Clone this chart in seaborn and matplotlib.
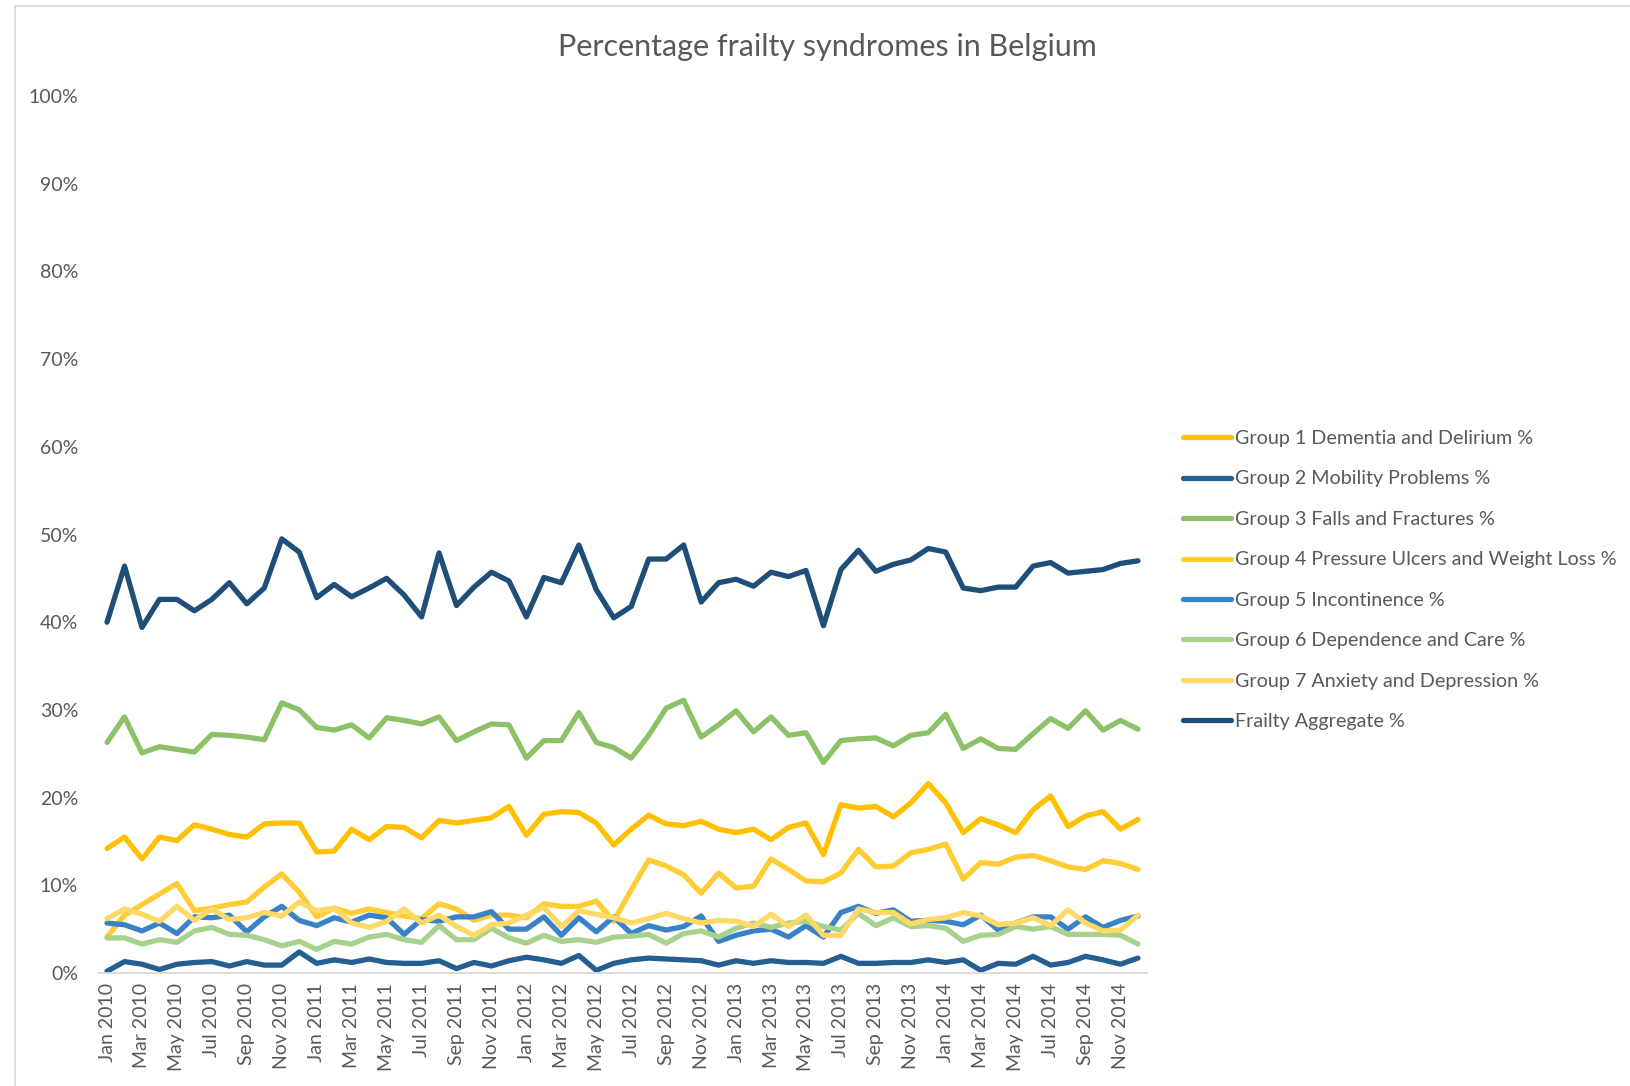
import matplotlib
matplotlib.use("Agg")
import matplotlib.pyplot as plt
from matplotlib.patches import Rectangle
import seaborn as sns
import pandas as pd

MONTHS = ["Jan", "Feb", "Mar", "Apr", "May", "Jun", "Jul", "Aug", "Sep", "Oct", "Nov", "Dec"]
YEARS = [2010, 2011, 2012, 2013, 2014]
period_labels = [f"{m} {y}" for y in YEARS for m in MONTHS]

series_names = [
    "Group 1 Dementia and Delirium %",
    "Group 2 Mobility Problems %",
    "Group 3 Falls and Fractures %",
    "Group 4 Pressure Ulcers and Weight Loss %",
    "Group 5 Incontinence %",
    "Group 6 Dependence and Care %",
    "Group 7 Anxiety and Depression %",
    "Frailty Aggregate %",
]

g1_dementia = [14.2, 15.5, 13.0, 15.5, 15.1, 16.9, 16.4, 15.8, 15.5, 17.0, 17.1, 17.1,
               13.8, 13.9, 16.4, 15.2, 16.7, 16.6, 15.4, 17.4, 17.1, 17.4, 17.7, 19.0,
               15.7, 18.1, 18.4, 18.3, 17.1, 14.6, 16.4, 18.0, 17.0, 16.8, 17.3, 16.4,
               16.0, 16.4, 15.2, 16.6, 17.1, 13.5, 19.2, 18.8, 19.0, 17.8, 19.4, 21.6,
               19.4, 16.0, 17.6, 16.9, 16.0, 18.6, 20.2, 16.7, 17.9, 18.4, 16.4, 17.5]
g2_mobility = [0.2, 1.3, 1.0, 0.4, 1.0, 1.2, 1.3, 0.8, 1.3, 0.9, 0.9, 2.4,
               1.1, 1.5, 1.2, 1.6, 1.2, 1.1, 1.1, 1.4, 0.5, 1.2, 0.8, 1.4,
               1.8, 1.5, 1.1, 2.0, 0.3, 1.1, 1.5, 1.7, 1.6, 1.5, 1.4, 0.9,
               1.4, 1.1, 1.4, 1.2, 1.2, 1.1, 1.9, 1.1, 1.1, 1.2, 1.2, 1.5,
               1.2, 1.5, 0.3, 1.1, 1.0, 1.9, 0.9, 1.2, 1.9, 1.5, 1.0, 1.7]
g3_falls = [26.3, 29.2, 25.1, 25.8, 25.5, 25.2, 27.2, 27.1, 26.9, 26.6, 30.8, 30.0,
            28.0, 27.7, 28.3, 26.8, 29.1, 28.8, 28.4, 29.2, 26.5, 27.5, 28.4, 28.3,
            24.5, 26.5, 26.5, 29.7, 26.3, 25.7, 24.5, 27.1, 30.2, 31.1, 26.9, 28.3,
            29.9, 27.5, 29.2, 27.1, 27.4, 24.0, 26.5, 26.7, 26.8, 25.9, 27.1, 27.4,
            29.5, 25.6, 26.7, 25.6, 25.5, 27.3, 29.0, 27.9, 29.9, 27.7, 28.8, 27.8]
g4_pressure = [4.1, 6.6, 7.8, 9.0, 10.2, 7.1, 7.4, 7.8, 8.1, 9.8, 11.3, 9.2,
               6.4, 7.4, 6.8, 7.3, 6.9, 6.5, 6.2, 7.9, 7.3, 6.0, 6.6, 6.6,
               6.3, 7.9, 7.6, 7.6, 8.2, 5.9, 9.5, 12.9, 12.2, 11.2, 9.1, 11.4,
               9.7, 9.9, 13.0, 11.8, 10.5, 10.4, 11.4, 14.1, 12.1, 12.2, 13.7, 14.1,
               14.7, 10.7, 12.6, 12.4, 13.2, 13.4, 12.8, 12.1, 11.8, 12.8, 12.5, 11.8]
g5_incontinence = [5.7, 5.5, 4.8, 5.7, 4.5, 6.4, 6.3, 6.6, 4.7, 6.4, 7.6, 6.0,
                   5.4, 6.3, 5.8, 6.6, 6.3, 4.4, 6.1, 5.9, 6.4, 6.4, 7.0, 5.0,
                   5.0, 6.4, 4.3, 6.3, 4.7, 6.4, 4.5, 5.4, 4.9, 5.3, 6.5, 3.6,
                   4.3, 4.8, 5.0, 4.1, 5.4, 4.1, 6.9, 7.6, 6.8, 7.2, 5.9, 6.0,
                   5.9, 5.5, 6.6, 4.9, 5.7, 6.4, 6.4, 5.0, 6.4, 5.2, 6.0, 6.5]
g6_dependence = [4.0, 4.0, 3.3, 3.8, 3.5, 4.8, 5.2, 4.4, 4.3, 3.8, 3.1, 3.6,
                 2.7, 3.6, 3.3, 4.1, 4.4, 3.8, 3.5, 5.4, 3.8, 3.8, 5.1, 4.0,
                 3.4, 4.3, 3.6, 3.8, 3.5, 4.1, 4.2, 4.4, 3.4, 4.5, 4.8, 4.1,
                 5.1, 5.7, 5.2, 5.7, 5.9, 5.3, 4.9, 6.8, 5.4, 6.3, 5.3, 5.4,
                 5.1, 3.6, 4.3, 4.4, 5.3, 5.0, 5.3, 4.4, 4.4, 4.4, 4.3, 3.3]
g7_anxiety = [6.2, 7.3, 6.7, 5.9, 7.6, 6.0, 7.3, 6.1, 6.3, 6.9, 6.5, 8.1,
              7.1, 7.4, 5.7, 5.2, 5.9, 7.3, 5.7, 6.6, 5.3, 4.3, 5.5, 5.7,
              6.6, 7.5, 5.3, 7.1, 6.7, 6.3, 5.7, 6.2, 6.8, 6.2, 5.7, 6.0,
              5.9, 5.3, 6.7, 5.3, 6.6, 4.3, 4.3, 7.3, 6.9, 6.9, 5.6, 6.1,
              6.3, 6.9, 6.5, 5.5, 5.7, 6.3, 5.4, 7.2, 5.7, 4.8, 4.9, 6.6]
frailty_aggregate = [40.0, 46.4, 39.4, 42.6, 42.6, 41.3, 42.6, 44.5, 42.1, 43.9, 49.5, 48.0,
                     42.8, 44.3, 42.9, 43.9, 45.0, 43.1, 40.6, 47.9, 41.9, 44.0, 45.7, 44.7,
                     40.6, 45.1, 44.5, 48.8, 43.7, 40.5, 41.8, 47.2, 47.2, 48.8, 42.3, 44.5,
                     44.9, 44.1, 45.7, 45.2, 45.9, 39.6, 46.0, 48.2, 45.8, 46.6, 47.1, 48.4,
                     48.0, 43.9, 43.6, 44.0, 44.0, 46.4, 46.8, 45.6, 45.8, 46.0, 46.7, 47.0]

series_values = [g1_dementia, g2_mobility, g3_falls, g4_pressure,
                 g5_incontinence, g6_dependence, g7_anxiety, frailty_aggregate]
colors = ["#FFC000", "#255E91", "#8CC168", "#FFCD33",
          "#3A82C6", "#A9D18E", "#FFD966", "#1F4E79"]

y_ticks = [0, 10, 20, 30, 40, 50, 60, 70, 80, 90, 100]
title = "Percentage frailty syndromes in Belgium"

rows = []
for name, vals in zip(series_names, series_values):
    for i, v in enumerate(vals):
        rows.append({"idx": i, "period": period_labels[i], "series": name, "value": v})
df = pd.DataFrame(rows)

sns.set_style("white")
plt.rcParams["font.family"] = ["Lato", "DejaVu Sans"]

W, H = 1631, 1086
LW = 3.8
fig = plt.figure(figsize=(W / 100, H / 100), dpi=100)
ax = fig.add_axes([98.3 / W, 1 - 973 / H, (1146.7 - 98.3) / W, (973 - 96) / H])

sns.lineplot(data=df, x="idx", y="value", hue="series", hue_order=series_names,
             palette=dict(zip(series_names, colors)), linewidth=LW, sort=False,
             ax=ax, legend=True)
for ln in ax.lines:
    ln.set_solid_joinstyle("round")
    ln.set_solid_capstyle("round")

ax.set_xlim(-0.5, len(period_labels) - 0.5)
ax.set_ylim(0, 100)
ax.set_yticks(y_ticks)
ax.set_yticklabels([f"{t}%" for t in y_ticks])
ax.set_xticks(range(0, len(period_labels), 2))
ax.set_xticklabels(period_labels[::2], rotation=90)
ax.tick_params(axis="both", length=0, labelsize=14, colors="#595959")
ax.tick_params(axis="y", pad=14.5)
ax.tick_params(axis="x", pad=7)
ax.set_xlabel("")
ax.set_ylabel("")
for s in ["top", "right", "left"]:
    ax.spines[s].set_visible(False)
ax.spines["bottom"].set_color("#D9D9D9")
ax.spines["bottom"].set_linewidth(1.3)
ax.grid(False)

handles, labels = ax.get_legend_handles_labels()
for h in handles:
    h.set_linewidth(LW)
    h.set_solid_capstyle("round")
leg = ax.legend(handles, labels, loc="upper left",
                bbox_to_anchor=(1183 / W, 1 - 430 / H), bbox_transform=fig.transFigure,
                frameon=False, fontsize=14.2, handlelength=2.44, handletextpad=0.2,
                labelspacing=1.19, borderpad=0, borderaxespad=0)
for t in leg.get_texts():
    t.set_color("#595959")

fig.text(827 / W, 1 - 47 / H, title, ha="center", va="center", fontsize=22, color="#595959")

fig.patches.append(Rectangle((15 / W, -0.1), 1.2, 1.1 - 6 / H, transform=fig.transFigure,
                             fill=False, edgecolor="#D9D9D9", linewidth=1.3))

fig.savefig("out.png", dpi=100)
